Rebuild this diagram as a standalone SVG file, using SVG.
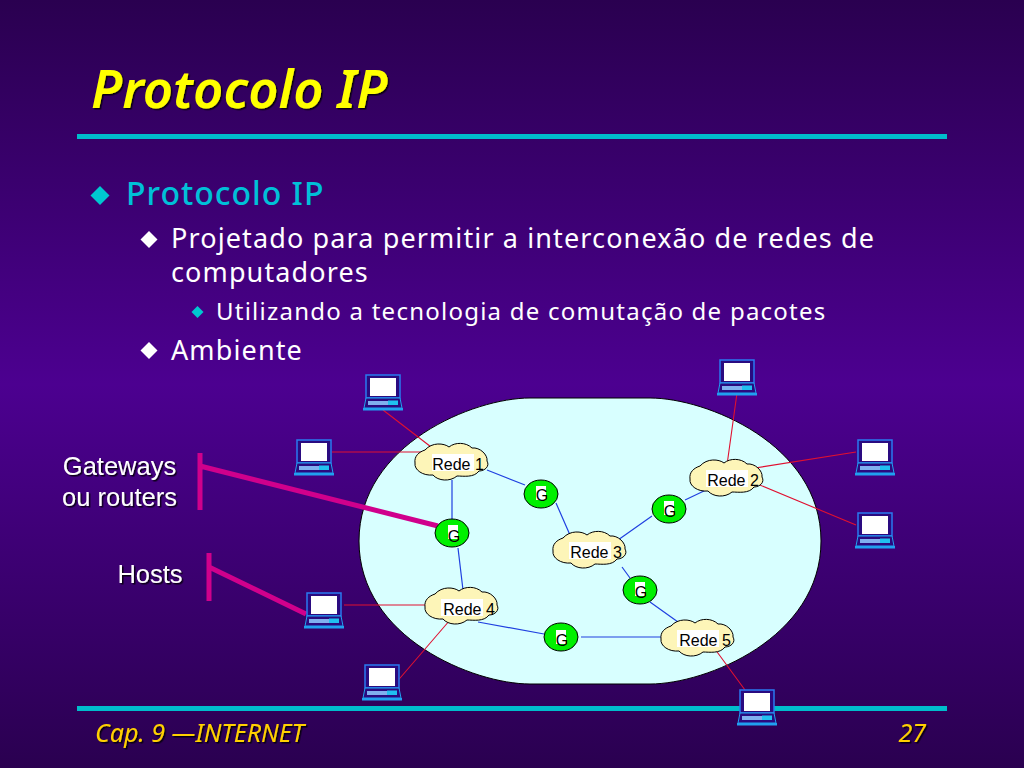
<svg xmlns="http://www.w3.org/2000/svg" width="1024" height="768" viewBox="0 0 1024 768">
<style>
.body{font-family:"Noto Sans","DejaVu Sans",sans-serif;fill:#fff}
.arial{font-family:"Liberation Sans",Arial,sans-serif}
.lab{font-size:16px;fill:#000;text-anchor:middle}
.side{font-size:25.5px;fill:#fff;text-anchor:middle;filter:url(#sh)}
.red{stroke:#e01030;stroke-width:1.1;fill:none}
.blue{stroke:#2040e0;stroke-width:1.2;fill:none}
.mag{stroke:#d0008c;stroke-width:5;fill:none}
.rule{fill:#00bccc}
.cloud{fill:#fdf5b8;stroke:#000;stroke-width:1}
.gw{fill:#00f000;stroke:#000;stroke-width:1}
.bul{fill:#00c8d0}
.wb{fill:#fff}
</style>
<defs>
<filter id="sh" x="-5%" y="-10%" width="110%" height="125%"><feDropShadow dx="1.5" dy="1.5" stdDeviation=".4" flood-color="#000" flood-opacity=".8"/></filter>
<linearGradient id="bg" x1="0" y1="0" x2="0" y2="1">
<stop offset="0" stop-color="#2a0050"/>
<stop offset=".5" stop-color="#4c0090"/>
<stop offset="1" stop-color="#2a0050"/>
</linearGradient>
<g id="laptop">
<rect x="-17" y="-17" width="34" height="23" fill="#2a0a80" stroke="#2a7af0" stroke-width="1.5"/>
<rect x="-13" y="-14" width="26" height="18" fill="#fff"/>
<path d="M-17 6H17L19 16H-19Z" fill="#2a0a80" stroke="#20a0f0" stroke-width="1"/>
<rect x="-20" y="16" width="40" height="2.500" fill="#20a0f0"/>
<rect x="-15" y="9" width="20" height="4" fill="#80b0f0"/>
<rect x="5" y="8.500" width="10" height="4.500" fill="#20c0f0"/>
</g>
<path id="cloud" d="M-27-12C-20-20-8-19-3-15C3-20 14-20 20-14C28-15 36-7 35-1C38 4 33 9 27 9C22 16 11 14 5 14C-2 20-14 19-19 13C-29 14-38 8-37 1C-38-6-33-10-27-12Z" class="cloud"/>
</defs>
<rect width="1024" height="768" fill="url(#bg)"/>

<g id="title">
<text x="91" y="108" font-family="Noto Sans, DejaVu Sans, sans-serif" font-size="52.500" font-style="italic" font-weight="600" fill="#ffff00" filter="url(#sh)">Protocolo IP</text>
</g>
<rect class="rule" x="77" y="134" width="870" height="5"/>

<g id="bullets">
<path class="bul" d="M100 186l9.500 9.500-9.500 9.500-9.500-9.500Z"/>
<text x="126" y="205" font-size="32" font-weight="500" class="body" style="fill:#00c0d8" letter-spacing="1">Protocolo IP</text>
<path d="M149 231l8.500 8.500-8.500 8.500-8.500-8.500Z" fill="#fff"/>
<text x="171" y="248" font-size="27" class="body" letter-spacing="1.120">Projetado para permitir a interconexão de redes de</text>
<text x="171" y="282" font-size="27" class="body" letter-spacing="1.120">computadores</text>
<path class="bul" d="M197.500 306l6 6-6 6-6-6Z"/>
<text x="216" y="320" font-size="24" class="body" letter-spacing="1.240">Utilizando a tecnologia de comutação de pacotes</text>
<path d="M149 342l8.500 8.500-8.500 8.500-8.500-8.500Z" fill="#fff"/>
<text x="171" y="360" font-size="27" class="body" letter-spacing="1.120">Ambiente</text>
</g>

<path id="internet" d="M530 398H650C706 398 821 444 821 541C821 638 706 684 650 684H530C474 684 359 638 359 541C359 444 474 398 530 398Z" fill="#d8ffff" stroke="#000" stroke-width="1"/>

<g id="connectors">
<path class="red" d="M383 410L435 450M332 452H425M737 393L727 465M755 468L856 452M755 483L856 525M344 605H435M382 699L450 620M712 645L745 690"/>
<path class="blue" d="M452 480V522M487 470L525 485M458 548L463 590M556 503L570 535M618 540L652 516M685 500L706 490M622 567L630 578M650 602L678 622M478 622L544 634M581 637H662"/>
<path class="mag" d="M200 453V510M200 466L438 526M209 553V601M209 567L306 614"/>
</g>

<g id="net1"><use href="#cloud" x="452" y="462"/><rect class="wb" x="432" y="454" width="42" height="17"/><text class="arial lab" x="458" y="470">Rede 1</text></g>
<g id="net2"><use href="#cloud" x="727" y="478"/><rect class="wb" x="706" y="470" width="42" height="17"/><text class="arial lab" x="733" y="486">Rede 2</text></g>
<g id="net3"><use href="#cloud" x="590" y="550"/><rect class="wb" x="569" y="542" width="42" height="17"/><text class="arial lab" x="596" y="558">Rede 3</text></g>
<g id="net4"><use href="#cloud" x="462" y="606"/><rect class="wb" x="441" y="599" width="42" height="17"/><text class="arial lab" x="469" y="615">Rede 4</text></g>
<g id="net5"><use href="#cloud" x="698" y="638"/><rect class="wb" x="677" y="630" width="42" height="17"/><text class="arial lab" x="705" y="646">Rede 5</text></g>

<g id="gw1"><ellipse class="gw" cx="541" cy="494" rx="17" ry="14"/><rect class="wb" x="536" y="486" width="10" height="14"/><text class="arial lab" x="542" y="501">G</text></g>
<g id="gw2"><ellipse class="gw" cx="669" cy="509" rx="17" ry="14"/><rect class="wb" x="664" y="501" width="10" height="14"/><text class="arial lab" x="670" y="517">G</text></g>
<g id="gw3"><ellipse class="gw" cx="452" cy="533" rx="17" ry="14"/><rect class="wb" x="448" y="525" width="10" height="14"/><text class="arial lab" x="454" y="542">G</text></g>
<g id="gw4"><ellipse class="gw" cx="640" cy="590" rx="17" ry="14"/><rect class="wb" x="635" y="582" width="10" height="14"/><text class="arial lab" x="641" y="598">G</text></g>
<g id="gw5"><ellipse class="gw" cx="561" cy="637" rx="17" ry="14"/><rect class="wb" x="556" y="630" width="10" height="14"/><text class="arial lab" x="562" y="646">G</text></g>

<g id="host1"><use href="#laptop" x="383" y="392"/></g>
<g id="host2"><use href="#laptop" x="314" y="457"/></g>
<g id="host3"><use href="#laptop" x="737" y="377"/></g>
<g id="host4"><use href="#laptop" x="875" y="457"/></g>
<g id="host5"><use href="#laptop" x="875" y="530"/></g>
<g id="host6"><use href="#laptop" x="324" y="610"/></g>
<g id="host7"><use href="#laptop" x="382" y="682"/></g>

<g id="labels">
<text class="arial side" x="119.500" y="475">Gateways</text>
<text class="arial side" x="119.500" y="506">ou routers</text>
<text class="arial side" x="150" y="583">Hosts</text>
</g>

<rect class="rule" x="77" y="706" width="870" height="5"/>
<g id="host8"><use href="#laptop" x="757" y="707"/></g>
<g id="footer" font-family="Noto Sans, DejaVu Sans, sans-serif" font-size="25" font-style="italic">
<text x="95" y="742" fill="#ffd000" filter="url(#sh)">Cap. 9 —INTERNET</text>
<text x="926" y="742" text-anchor="end" fill="#ffd000" filter="url(#sh)">27</text>
</g>
</svg>
